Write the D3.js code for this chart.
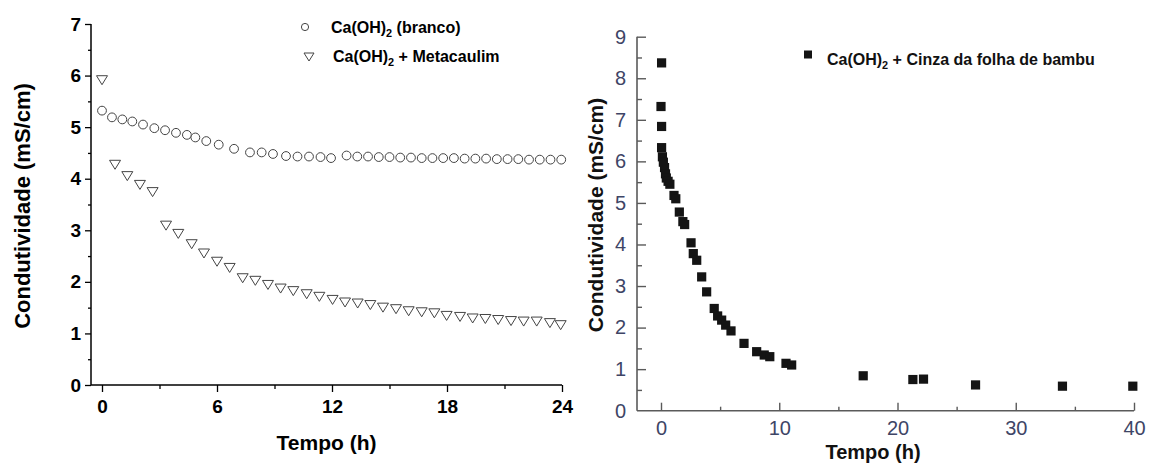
<!DOCTYPE html>
<html><head><meta charset="utf-8">
<script src="https://cdn.jsdelivr.net/npm/d3@7"></script>
<style>
html,body{margin:0;padding:0;background:#fff;}
svg{display:block;font-family:Arial,"Liberation Sans",sans-serif;}
</style></head>
<body>
<svg id="chart" width="1157" height="465"></svg>
<script>
// ---- Left panel data ----
const brancoTime = [0,0.52,1.06,1.58,2.14,2.73,3.29,3.86,4.43,4.87,5.44,6.09,6.89,7.72,8.33,8.92,9.6,10.2,10.8,11.4,11.95,12.76,13.32,13.88,14.44,15.0,15.56,16.12,16.68,17.24,17.8,18.36,18.92,19.48,20.04,20.6,21.16,21.72,22.28,22.84,23.4,23.96];
const brancoValue = [5.32,5.19,5.15,5.11,5.05,4.98,4.94,4.89,4.85,4.80,4.73,4.66,4.58,4.51,4.51,4.48,4.44,4.43,4.43,4.42,4.40,4.45,4.43,4.43,4.42,4.42,4.41,4.41,4.40,4.40,4.40,4.40,4.39,4.39,4.39,4.38,4.38,4.38,4.37,4.37,4.37,4.37];
const metaTime = [0,0.68,1.32,1.98,2.64,3.34,3.98,4.68,5.32,6.0,6.66,7.34,8.0,8.66,9.32,9.98,10.68,11.34,12.03,12.68,13.34,14.0,14.66,15.34,16.0,16.68,17.34,17.98,18.68,19.34,20.0,20.67,21.34,22.0,22.68,23.37,23.93];
const metaValue = [5.91,4.27,4.05,3.88,3.74,3.09,2.93,2.73,2.55,2.39,2.27,2.07,2.02,1.94,1.87,1.82,1.76,1.71,1.65,1.60,1.58,1.55,1.50,1.47,1.43,1.41,1.39,1.34,1.32,1.29,1.28,1.26,1.24,1.23,1.23,1.20,1.16];
const leftXTicks = [0,6,12,18,24];
const leftXMinor = [3,9,15,21];
const leftYTicks = [0,1,2,3,4,5,6,7];
const leftYMinor = [0.5,1.5,2.5,3.5,4.5,5.5,6.5];

// ---- Right panel data ----
const bambuTime = [0.05,0.0,0.05,0.05,0.12,0.2,0.3,0.38,0.45,0.6,0.75,1.1,1.25,1.55,1.85,2.0,2.54,2.73,3.02,3.44,3.86,4.5,4.79,5.13,5.47,5.92,7.02,8.09,8.73,9.2,10.57,11.05,17.1,21.3,22.2,26.6,33.95,39.9];
const bambuValue = [8.37,7.32,6.84,6.33,6.11,5.98,5.85,5.7,5.6,5.52,5.45,5.18,5.1,4.78,4.55,4.48,4.04,3.78,3.62,3.22,2.86,2.46,2.28,2.18,2.06,1.92,1.62,1.42,1.34,1.30,1.14,1.10,0.84,0.75,0.76,0.62,0.59,0.59];
const rightXTicks = [0,10,20,30,40];
const rightXMinor = [5,15,25,35];
const rightYTicks = [0,1,2,3,4,5,6,7,8,9];
const rightYMinor = [0.5,1.5,2.5,3.5,4.5,5.5,6.5,7.5,8.5];

const svg = d3.select("#chart");

// ================= LEFT PANEL =================
const lx = d3.scaleLinear().domain([0,24]).range([102,562]);
const ly = d3.scaleLinear().domain([0,7]).range([385,24]);
const lAxisX = 91;
const L = svg.append("g");

L.append("line").attr("x1",lAxisX).attr("x2",lx(24)).attr("y1",ly(0)).attr("y2",ly(0)).attr("stroke","#000").attr("stroke-width",1.5);
L.append("line").attr("x1",lAxisX).attr("x2",lAxisX).attr("y1",ly(0)).attr("y2",ly(7)).attr("stroke","#000").attr("stroke-width",1.5);

function styleAxis(g, color, stroke){
  g.select(".domain").remove();
  g.selectAll(".tick line").attr("stroke",color).attr("stroke-width",stroke);
}
const gyMin = L.append("g").attr("transform",`translate(${lAxisX},0)`)
  .call(d3.axisLeft(ly).tickValues(leftYMinor).tickSize(3).tickFormat(""));
styleAxis(gyMin,"#000",1.3);
const gy = L.append("g").attr("transform",`translate(${lAxisX},0)`)
  .call(d3.axisLeft(ly).tickValues(leftYTicks).tickSize(6).tickPadding(4).tickFormat(d3.format("d")));
styleAxis(gy,"#000",1.3);
gy.selectAll("text").attr("font-size",19).attr("font-weight","bold").attr("fill","#000").attr("font-family","Arial,'Liberation Sans',sans-serif");

const gxMin = L.append("g").attr("transform",`translate(0,${ly(0)})`)
  .call(d3.axisBottom(lx).tickValues(leftXMinor).tickSize(4).tickFormat(""));
styleAxis(gxMin,"#000",1.3);
const gx = L.append("g").attr("transform",`translate(0,${ly(0)})`)
  .call(d3.axisBottom(lx).tickValues(leftXTicks).tickSize(7).tickPadding(8).tickFormat(d3.format("d")));
styleAxis(gx,"#000",1.3);
gx.selectAll("text").attr("font-size",19).attr("font-weight","bold").attr("fill","#000").attr("font-family","Arial,'Liberation Sans',sans-serif");

L.append("text").attr("x",(lAxisX+lx(24))/2).attr("y",450).attr("text-anchor","middle")
  .attr("font-size",21).attr("font-weight","bold").text("Tempo (h)");
L.append("text").attr("transform",`translate(30,${206}) rotate(-90)`).attr("text-anchor","middle")
  .attr("font-size",22).attr("font-weight","bold").text("Condutividade (mS/cm)");

const triPath = "M-5.5,-4.5L5.5,-4.5L0,4.5Z";
L.append("g").selectAll("circle").data(brancoTime.map((t,i)=>[t,brancoValue[i]])).join("circle")
  .attr("cx",d=>lx(d[0])).attr("cy",d=>ly(d[1])).attr("r",4.4)
  .attr("fill","#fff").attr("stroke","#444").attr("stroke-width",1);
L.append("g").selectAll("path").data(metaTime.map((t,i)=>[t,metaValue[i]])).join("path")
  .attr("d",triPath).attr("transform",d=>`translate(${lx(d[0])},${ly(d[1])})`)
  .attr("fill","#fff").attr("stroke","#444").attr("stroke-width",1);

function chemLabel(g, x, y, size, rest){
  const t = g.append("text").attr("x",x).attr("y",y).attr("font-size",size).attr("font-weight","bold").attr("fill","#000");
  t.append("tspan").text("Ca(OH)");
  t.append("tspan").attr("font-size",size*0.68).attr("dy",size*0.25).text("2");
  t.append("tspan").attr("dy",-size*0.25).text(rest);
  return t;
}
L.append("circle").attr("cx",305).attr("cy",27).attr("r",3.6).attr("fill","#fff").attr("stroke","#444").attr("stroke-width",1);
chemLabel(L,331,33,16," (branco)");
L.append("path").attr("d","M-5,-4L5,-4L0,4Z").attr("transform","translate(309,57)").attr("fill","#fff").attr("stroke","#444").attr("stroke-width",1);
chemLabel(L,333,62,16," + Metacaulim");

// ================= RIGHT PANEL =================
const rx = d3.scaleLinear().domain([0,40]).range([661,1134]);
const ry = d3.scaleLinear().domain([0,9]).range([410.7,36.7]);
const rAxisX = 637;
const R = svg.append("g");
const axisGray = "#5a5a5a";
const labelColor = "#3e4566";

R.append("line").attr("x1",rAxisX).attr("x2",rx(40)).attr("y1",ry(0)).attr("y2",ry(0)).attr("stroke",axisGray).attr("stroke-width",1.6);
R.append("line").attr("x1",rAxisX).attr("x2",rAxisX).attr("y1",ry(0)).attr("y2",ry(9)).attr("stroke",axisGray).attr("stroke-width",1.6);

const ryMin = R.append("g").attr("transform",`translate(${rAxisX},0)`)
  .call(d3.axisLeft(ry).tickValues(rightYMinor).tickSize(-5).tickFormat(""));
styleAxis(ryMin,axisGray,1.4);
const ryMaj = R.append("g").attr("transform",`translate(${rAxisX},0)`)
  .call(d3.axisLeft(ry).tickValues(rightYTicks.filter(d=>d>0)).tickSize(-9).tickFormat(""));
styleAxis(ryMaj,axisGray,1.4);
const ryLab = R.append("g").attr("transform",`translate(${rAxisX},0)`)
  .call(d3.axisLeft(ry).tickValues(rightYTicks).tickSize(0).tickPadding(11).tickFormat(d3.format("d")));
styleAxis(ryLab,axisGray,0);
ryLab.selectAll("text").attr("font-size",20).attr("fill",labelColor).attr("font-family","Arial,'Liberation Sans',sans-serif");

const rxMin = R.append("g").attr("transform",`translate(0,${ry(0)})`)
  .call(d3.axisBottom(rx).tickValues(rightXMinor).tickSize(-4).tickFormat(""));
styleAxis(rxMin,axisGray,1.4);
const rxMaj = R.append("g").attr("transform",`translate(0,${ry(0)})`)
  .call(d3.axisBottom(rx).tickValues(rightXTicks).tickSize(-8).tickPadding(10).tickFormat(d3.format("d")));
styleAxis(rxMaj,axisGray,1.4);
rxMaj.selectAll("text").attr("font-size",20).attr("fill",labelColor).attr("font-family","Arial,'Liberation Sans',sans-serif");

R.append("text").attr("x",873).attr("y",459).attr("text-anchor","middle")
  .attr("font-size",20).attr("font-weight","bold").attr("fill","#111").text("Tempo (h)");
R.append("text").attr("transform",`translate(603,${215}) rotate(-90)`).attr("text-anchor","middle")
  .attr("font-size",21).attr("font-weight","bold").attr("fill","#111").text("Condutividade (mS/cm)");

R.append("g").selectAll("rect").data(bambuTime.map((t,i)=>[t,bambuValue[i]])).join("rect")
  .attr("x",d=>rx(d[0])-4.6).attr("y",d=>ry(d[1])-4.6).attr("width",9.2).attr("height",9.2)
  .attr("fill","#141414");

R.append("rect").attr("x",804).attr("y",50.5).attr("width",8).attr("height",8).attr("fill","#141414");
chemLabel(R,827,65,16," + Cinza da folha de bambu").attr("fill","#111");
</script>
</body></html>
